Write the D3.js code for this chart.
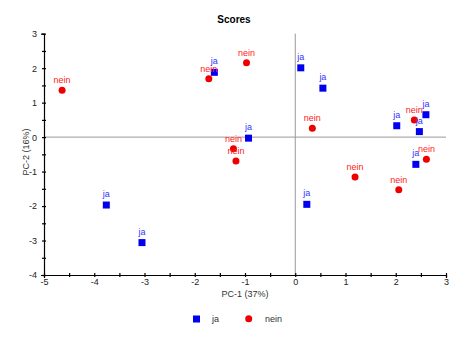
<!DOCTYPE html>
<html><head><meta charset="utf-8">
<script src="https://cdn.jsdelivr.net/npm/d3@7"></script>
<style>body{margin:0;background:#fff}svg{display:block;font-family:"Liberation Sans",Arial,sans-serif}</style>
</head><body><svg id="c" width="464" height="338"></svg>
<script>
const jaX = [-1.61, 0.11, 0.55, 2.60, 2.02, 2.47, -0.93, 2.40, -3.76, 0.23, -3.05];
const jaY = [1.88, 2.01, 1.42, 0.65, 0.33, 0.16, -0.03, -0.79, -1.97, -1.95, -3.06];
const neinX = [-4.64, -1.72, -0.97, 0.34, 2.37, -1.23, -1.18, 2.61, 1.19, 2.06];
const neinY = [1.36, 1.69, 2.16, 0.26, 0.50, -0.34, -0.69, -0.64, -1.16, -1.53];
const xTicks = [-5, -4, -3, -2, -1, 0, 1, 2, 3];
const yTicks = [3, 2, 1, 0, -1, -2, -3, -4];

const svg = d3.select("#c");
const x = d3.scaleLinear().domain([-5, 3]).range([44, 446]);
const y = d3.scaleLinear().domain([-4, 3]).range([275, 33.7]);

svg.append("text").attr("x", 234).attr("y", 23).attr("text-anchor", "middle")
  .attr("font-size", 10).attr("font-weight", "bold").text("Scores");

// zero lines
svg.append("line").attr("x1", x(-5)).attr("x2", x(3)).attr("y1", y(0)).attr("y2", y(0))
  .attr("stroke", "#999").attr("stroke-width", 1);
svg.append("line").attr("x1", x(0)).attr("x2", x(0)).attr("y1", y(3)).attr("y2", y(-4))
  .attr("stroke", "#999").attr("stroke-width", 1);

// axes
const xAxis = d3.axisBottom(x).tickValues(d3.range(-5, 3.01, 0.5))
  .tickFormat(d => Number.isInteger(d) ? d : "").tickSize(3).tickPadding(1);
const gx = svg.append("g").attr("transform", `translate(0,${y(-4)})`).call(xAxis);
gx.selectAll(".tick line").attr("y1", -2).attr("y2", 2);
const yAxis = d3.axisLeft(y).tickValues(d3.range(-4, 3.01, 0.5))
  .tickFormat(d => Number.isInteger(d) ? d : "").tickSize(3).tickPadding(4);
const gy = svg.append("g").attr("transform", `translate(${x(-5)},0)`).call(yAxis);
gy.selectAll(".tick line").attr("x1", -2).attr("x2", 2);
[gx, gy].forEach(g => {
  g.select(".domain").attr("stroke", "#000").attr("stroke-width", 1.2);
  g.selectAll(".tick line").attr("stroke", "#000").attr("stroke-width", 1.2);
  g.selectAll(".tick text").attr("font-size", 9).attr("fill", "#222")
    .attr("font-family", "Liberation Sans, Arial, sans-serif");
});

svg.append("text").attr("x", 245).attr("y", 297).attr("text-anchor", "middle")
  .attr("font-size", 9).attr("fill", "#333").text("PC-1 (37%)");
svg.append("text").attr("transform", "translate(29,152) rotate(-90)").attr("text-anchor", "middle")
  .attr("font-size", 9).attr("fill", "#333").text("PC-2 (16%)");

const ja = jaX.map((v, i) => ({x: v, y: jaY[i]}));
const nein = neinX.map((v, i) => ({x: v, y: neinY[i]}));

svg.append("g").selectAll("circle").data(nein).join("circle")
  .attr("cx", d => x(d.x)).attr("cy", d => y(d.y)).attr("r", 3.5).attr("fill", "#ee0000");
svg.append("g").selectAll("rect").data(ja).join("rect")
  .attr("x", d => x(d.x) - 3.5).attr("y", d => y(d.y) - 3.5).attr("width", 7).attr("height", 7).attr("fill", "#0000ee");

svg.append("g").selectAll("text").data(nein).join("text")
  .attr("x", d => x(d.x)).attr("y", d => y(d.y) - 7).attr("text-anchor", "middle")
  .attr("font-size", 9).attr("fill", "#f22").text("nein");
svg.append("g").selectAll("text").data(ja).join("text")
  .attr("x", d => x(d.x)).attr("y", d => y(d.y) - 8).attr("text-anchor", "middle")
  .attr("font-size", 9).attr("fill", "#33f").text("ja");

// legend
svg.append("rect").attr("x", 193).attr("y", 315.5).attr("width", 7).attr("height", 7).attr("fill", "#0000ee");
svg.append("text").attr("x", 212).attr("y", 322).attr("font-size", 9).attr("fill", "#333").text("ja");
svg.append("circle").attr("cx", 248.7).attr("cy", 318.7).attr("r", 3.5).attr("fill", "#ee0000");
svg.append("text").attr("x", 265).attr("y", 322).attr("font-size", 9).attr("fill", "#333").text("nein");
</script></body></html>
